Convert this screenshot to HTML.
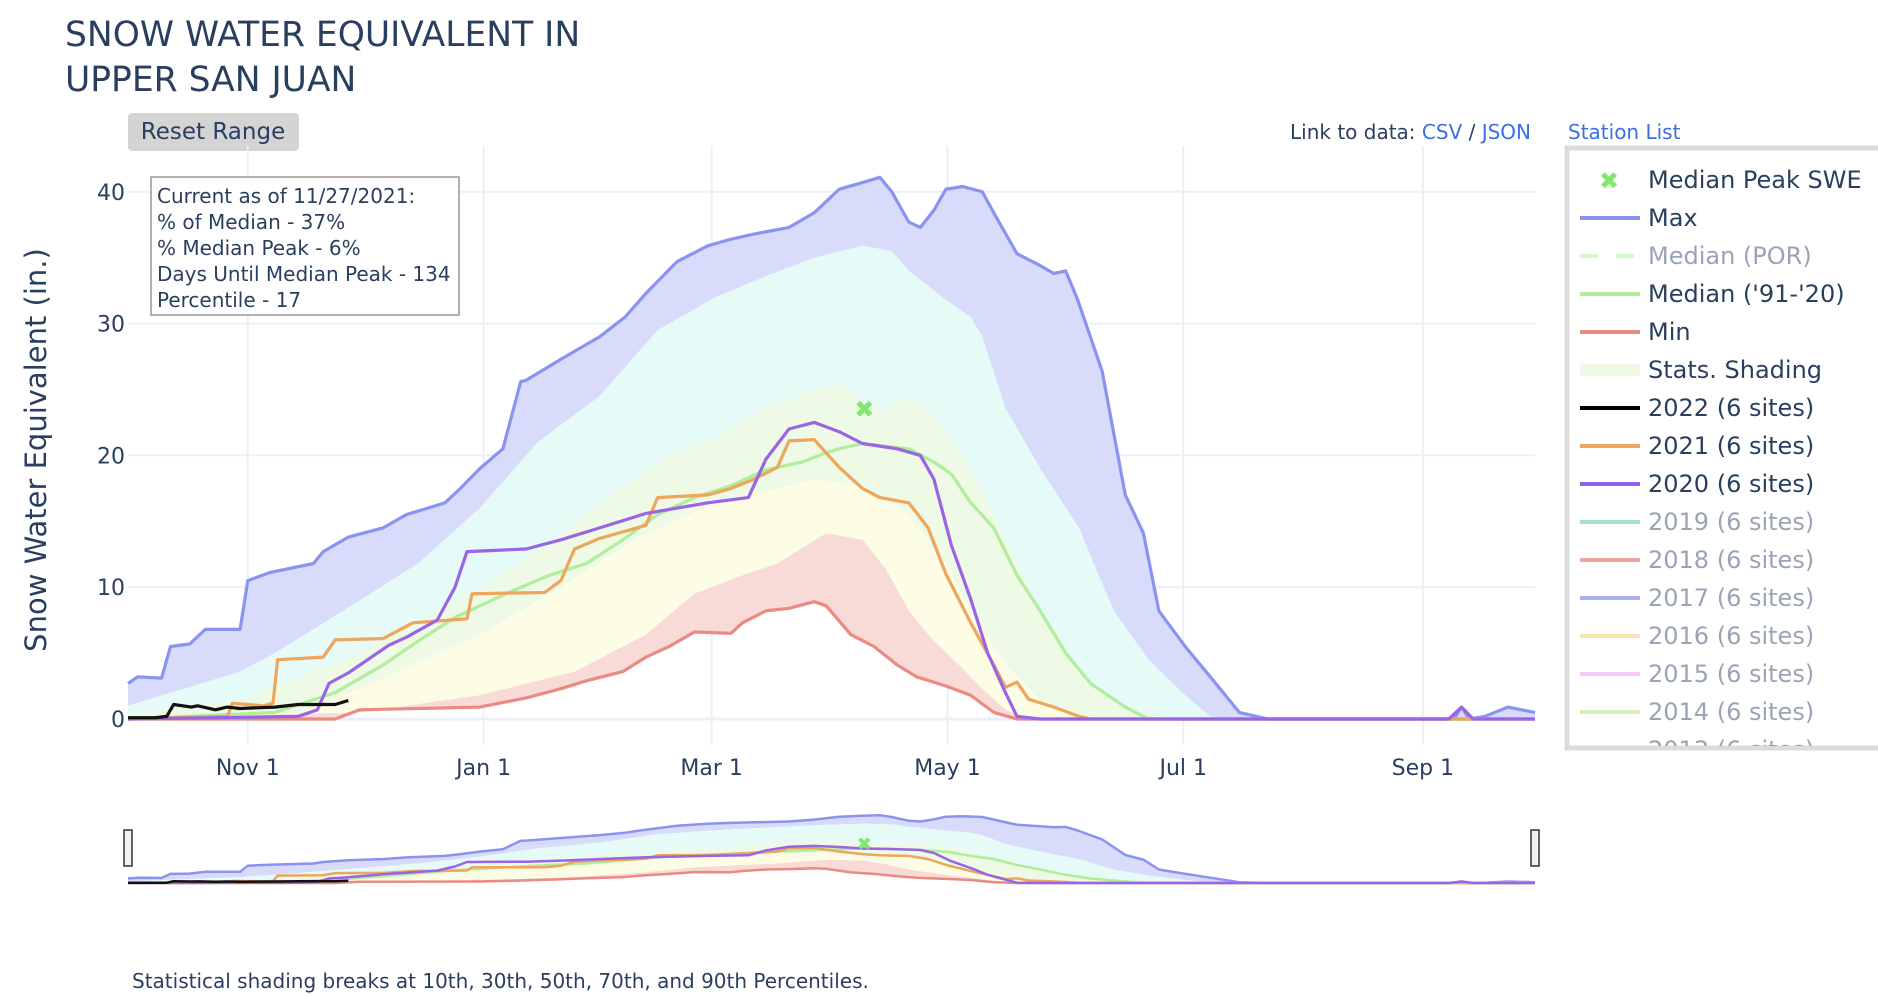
<!DOCTYPE html>
<html><head><meta charset="utf-8"><style>
html,body{margin:0;padding:0;background:#fff;width:1878px;height:998px;overflow:hidden;font-family:"Liberation Sans","DejaVu Sans",sans-serif}
svg text{font-family:"DejaVu Sans","Liberation Sans",sans-serif}
</style></head><body>
<svg id="chart" width="1878" height="998" viewBox="0 0 1878 998" xmlns="http://www.w3.org/2000/svg">
<text x="65" y="46" font-size="34.5" fill="#2a3f5f">SNOW WATER EQUIVALENT IN</text>
<text x="65" y="91" font-size="34.5" fill="#2a3f5f">UPPER SAN JUAN</text>
<g>
<rect x="128" y="113" width="171" height="38" rx="4" fill="#d4d4d4"/>
<text x="213" y="139" font-size="23" fill="#2a3f5f" text-anchor="middle">Reset Range</text>
</g>
<text x="1531" y="139" font-size="20" fill="#2a3f5f" text-anchor="end">Link to data: <tspan fill="#3b6fe0">CSV</tspan> / <tspan fill="#3b6fe0">JSON</tspan></text>
<text x="1568" y="139" font-size="20" fill="#3b6fe0">Station List</text>
<g id="grid"></g>
<g id="bands"></g>
<g id="lines"></g>
<g id="mini"></g>
<g id="axes"></g>
<g>
<rect x="151" y="177" width="308" height="138" fill="#fff" stroke="#999" stroke-width="1.5"/>
<text x="157" y="203" font-size="20" fill="#2a3f5f">Current as of 11/27/2021:</text>
<text x="157" y="229" font-size="20" fill="#2a3f5f">% of Median - 37%</text>
<text x="157" y="255" font-size="20" fill="#2a3f5f">% Median Peak - 6%</text>
<text x="157" y="281" font-size="20" fill="#2a3f5f">Days Until Median Peak - 134</text>
<text x="157" y="307" font-size="20" fill="#2a3f5f">Percentile - 17</text>
</g>
<text transform="translate(46,450) rotate(-90)" font-size="29" fill="#2a3f5f" text-anchor="middle">Snow Water Equivalent (in.)</text>
<text x="132" y="988" font-size="20" fill="#2a3f5f">Statistical shading breaks at 10th, 30th, 50th, 70th, and 90th Percentiles.</text>
<g id="legend"></g>
</svg>
<script>
// ---- data (day index from Oct 1, value in inches) ----
const maxDays=[0,2.5,8.7,11,16,20,29,31,36.5,48,50.5,57,66,72,82,86,91,97,101.6,103,112,122,128.6,134,142,150,156,162,171,177.5,184,190,194.5,197.6,202,205,208.5,211.6,216,221,224,230,236,239.5,242.6,245.7,252,258,262.7,266.7,273.5,280,287.5,295,343,345,347,351,357,364];
const maxVals=[2.7,3.2,3.1,5.5,5.7,6.8,6.8,10.5,11.1,11.8,12.7,13.8,14.5,15.5,16.4,17.5,19,20.5,25.6,25.7,27.3,29,30.5,32.3,34.7,35.9,36.4,36.8,37.3,38.4,40.2,40.7,41.1,40,37.7,37.3,38.6,40.2,40.4,40,38.4,35.3,34.4,33.8,34,31.8,26.4,17,14.1,8.2,5.5,3.2,0.5,0,0,0.9,0,0.2,0.9,0.5];
const p90Days=[0,29,38,60,75,91,106,122,137,152,165,177.5,190,197.6,202,211.6,218,221,227,236,246,255,264,273.5,280,283,364];
const p90Vals=[1,3.6,5,9,11.8,16,21,24.5,29.5,32,33.6,35,35.9,35.5,34,31.8,30.5,29,23.6,19,14.5,8.2,4.5,1.8,0.2,0,0];
const p70Days=[0,29,60,91,106,122,140,152,165,177.5,184,190,196,200.7,207,215,224,233,239.5,249,261,270,364];
const p70Vals=[0.3,1.4,5,10,12.7,16.4,20,21.4,23.6,25,25.5,24,23.2,24.5,23.6,20.5,15.5,10,6.4,2.7,0.5,0,0];
const p30Days=[0,44,60,91,112,131,152,165,177.5,190,202,211.6,218,227,236,246,252,364];
const p30Vals=[0,0.5,2.3,6.4,10,13.6,16.4,17.3,18.2,17.7,15.5,11.8,8.2,4.1,1.4,0.2,0,0];
const p10Days=[0,60,91,115.5,134,146.5,159,168,180.6,190,196,202,208.5,215,221,227,233,364];
const p10Vals=[0,0.5,1.8,3.6,6.4,9.5,10.9,11.8,14.1,13.6,11.4,8.2,5.9,4.1,2.3,0.7,0,0];
const minDays=[0,53.6,60,91,103,112,118.6,128,134,140,146.5,156,159,165,171,177.5,180.6,187,193,199,204,211.6,218,224,230,364];
const minVals=[0,0,0.7,0.9,1.6,2.3,2.9,3.6,4.7,5.5,6.6,6.5,7.3,8.2,8.4,8.9,8.6,6.4,5.5,4.1,3.2,2.5,1.8,0.5,0,0];
const medDays=[0,38,53.6,66,75,84.6,97,109,118.6,128,137,146.5,156,165,174.4,180.6,184,190,196,202,208.5,213,218,224,230,236,242.6,249,258,264,364];
const medVals=[0,0.5,2,4.1,5.9,7.7,9.4,10.9,11.8,13.6,15.5,16.8,17.7,18.9,19.5,20.2,20.5,20.9,20.7,20.5,19.5,18.6,16.4,14.5,10.9,8.2,5,2.7,0.9,0,0];
const y2020Days=[0,44,49,52,57,60,67.5,72,80,84.6,87.7,103,112,122,134,150,160.5,165,171,177.5,184,190,199,205,208.5,213,218,222.4,227,230,236,341.7,345,348,364];
const y2020Vals=[0,0.2,0.7,2.7,3.5,4.1,5.6,6.2,7.5,10,12.7,12.9,13.6,14.5,15.6,16.4,16.8,19.7,22,22.5,21.8,20.9,20.5,20,18.2,13.2,9.1,5,2,0.2,0,0,0.9,0,0];
const y2021Days=[0,25.7,27,35,37.5,38.7,50.5,53.6,66,73.7,87.7,89,107.8,112,115.5,122,134,137,150,156,162,168,171,177.5,184,190,194.5,202,207,211.6,218,224,227,230,233,239.5,246,249,364];
const y2021Vals=[0,0.2,1.2,1,1.2,4.5,4.7,6,6.1,7.3,7.6,9.5,9.6,10.5,12.9,13.7,14.7,16.8,17,17.5,18.2,19.1,21.1,21.2,19.1,17.5,16.8,16.4,14.5,11,7.3,4.1,2.4,2.8,1.5,0.9,0.2,0,0];
const y2022Days=[0,7,10,11.8,16.4,18,22.6,25.7,29,38,44,53.6,57];
const y2022Vals=[0.1,0.1,0.2,1.1,0.9,1,0.7,0.9,0.8,0.9,1.1,1.1,1.4];
const peakDay=[190.5];
const peakVal=[23.5];
const xTickDays=[31,92,151,212,273,335];
const xTickLabels=['Nov  1','Jan  1','Mar  1','May  1','Jul  1','Sep  1'];
const yTicks=[0,10,20,30,40];

const NS='http://www.w3.org/2000/svg';
const L=128,R=1535,T=146,B=745;
const x=d=>L+d*(R-L)/364;
const y=v=>719-v*13.18;
const my=v=>883-v*1.65;
function el(tag,attrs,parent){const e=document.createElementNS(NS,tag);for(const k in attrs)e.setAttribute(k,attrs[k]);parent.appendChild(e);return e;}
const grid=document.getElementById('grid'),bands=document.getElementById('bands'),lines=document.getElementById('lines'),mini=document.getElementById('mini'),axes=document.getElementById('axes');
yTicks.forEach(v=>{
  const g=el('line',{x1:L,x2:R,y1:y(v),y2:y(v),stroke:'#ebf0f8','stroke-width':v===0?3:2},grid);
  
  
  const t=el('text',{x:L-3,y:y(v)+8,'font-size':22,fill:'#2a3f5f','text-anchor':'end'},axes);t.textContent=v;
  
  
});
xTickDays.forEach((d,i)=>{
  const g=el('line',{x1:x(d),x2:x(d),y1:T,y2:B,stroke:'#ebf0f8','stroke-width':2},grid);
  
  
  const t=el('text',{x:x(d),y:775,'font-size':22,fill:'#2a3f5f','text-anchor':'middle','xml:space':'preserve'},axes);t.textContent=xTickLabels[i];
  
  
});
function pts(ds,vs,fy){return ds.map((d,i)=>x(d).toFixed(1)+','+fy(vs[i]).toFixed(1));}
function band(par,uD,uV,lD,lV,fill,fy,name){
  const p=pts(uD,uV,fy).concat(pts(lD,lV,fy).reverse());
  const e=el('polygon',{points:p.join(' '),fill:fill},par);
  
  
}
function line(par,ds,vs,col,w,fy,name){
  const e=el('polyline',{points:pts(ds,vs,fy).join(' '),fill:'none',stroke:col,'stroke-width':w,'stroke-linejoin':'round'},par);
  
  
}
function drawAll(pb,pl,fy,w){
  band(pb,maxDays,maxVals,p90Days,p90Vals,'#d8dbf9',fy,'band-90-max');
  band(pb,p90Days,p90Vals,p70Days,p70Vals,'#e6faf7',fy,'band-70-90');
  band(pb,p70Days,p70Vals,p30Days,p30Vals,'#eef9e6',fy,'band-30-70');
  band(pb,p30Days,p30Vals,p10Days,p10Vals,'#fdfde6',fy,'band-10-30');
  band(pb,p10Days,p10Vals,minDays,minVals,'#f8dad7',fy,'band-min-10');
  line(pl,maxDays,maxVals,'#8a93f0',w,fy,'max-line');
  line(pl,minDays,minVals,'#ea8a82',w,fy,'min-line');
  line(pl,medDays,medVals,'#b0ee9a',w,fy,'median-line');
  line(pl,y2021Days,y2021Vals,'#eea55c',w,fy,'line-2021');
  line(pl,y2020Days,y2020Vals,'#9a64e6',w,fy,'line-2020');
  line(pl,y2022Days,y2022Vals,'#111',w,fy,'line-2022');
  peakDay.forEach((d,i)=>{
    const t=el('text',{x:x(d),y:fy(peakVal[i])+(w>2.6?8:6),'font-size':w>2.6?24:18,'font-weight':'bold',fill:'#80e870','text-anchor':'middle'},pl);t.textContent='✖';
    
    
  });
}
drawAll(bands,lines,y,3.2);
drawAll(mini,mini,my,2.5);
[L,R].forEach(hx=>{
  const h=el('rect',{x:hx-4,y:830,width:8,height:36,fill:'#f2f2f2',stroke:'#333','stroke-width':1.5},mini);
  
  
});
// legend
const lg=document.getElementById('legend');
el('rect',{x:1567,y:148,width:320,height:600,fill:'#fff',stroke:'#dcdcdc','stroke-width':5},lg);
const items=[['Median Peak SWE','x','#80e870',1],['Max','l','#8a93f0',1],['Median (POR)','d','#d6f5cf',0],["Median ('91-'20)",'l','#b0ee9a',1],['Min','l','#ea8a82',1],['Stats. Shading','s','#eef9e6',1],['2022 (6 sites)','l','#000',1],['2021 (6 sites)','l','#eea55c',1],['2020 (6 sites)','l','#9262e6',1],['2019 (6 sites)','l','#a6e0c6',0],['2018 (6 sites)','l','#eaa89c',0],['2017 (6 sites)','l','#a9b0f0',0],['2016 (6 sites)','l','#f8e2b0',0],['2015 (6 sites)','l','#f7c8f5',0],['2014 (6 sites)','l','#d6eeb8',0],['2013 (6 sites)','l','#d0d0f0',0]];
const clip=el('clipPath',{id:'lgclip'},lg);el('rect',{x:1570,y:150,width:310,height:596},clip);
const lgi=el('g',{'clip-path':'url(#lgclip)'},lg);
items.forEach((it,i)=>{
  const cy=180+i*38;
  const g=el('g',{},lgi);
  
  
  if(it[1]==='x'){const t=el('text',{x:1609,y:cy+9,'font-size':24,'font-weight':'bold',fill:it[2],'text-anchor':'middle'},g);t.textContent='✖';}
  else if(it[1]==='l'){el('line',{x1:1580,x2:1640,y1:cy,y2:cy,stroke:it[2],'stroke-width':4},g);}
  else if(it[1]==='d'){el('line',{x1:1580,x2:1640,y1:cy,y2:cy,stroke:it[2],'stroke-width':4,'stroke-dasharray':'18,18'},g);}
  else {el('rect',{x:1580,y:cy-6,width:60,height:12,fill:it[2]},g);}
  const t=el('text',{x:1648,y:cy+8,'font-size':24,fill:it[3]?'#2a3f5f':'#9aa4b4'},g);t.textContent=it[0];
});
</script>
</body></html>
